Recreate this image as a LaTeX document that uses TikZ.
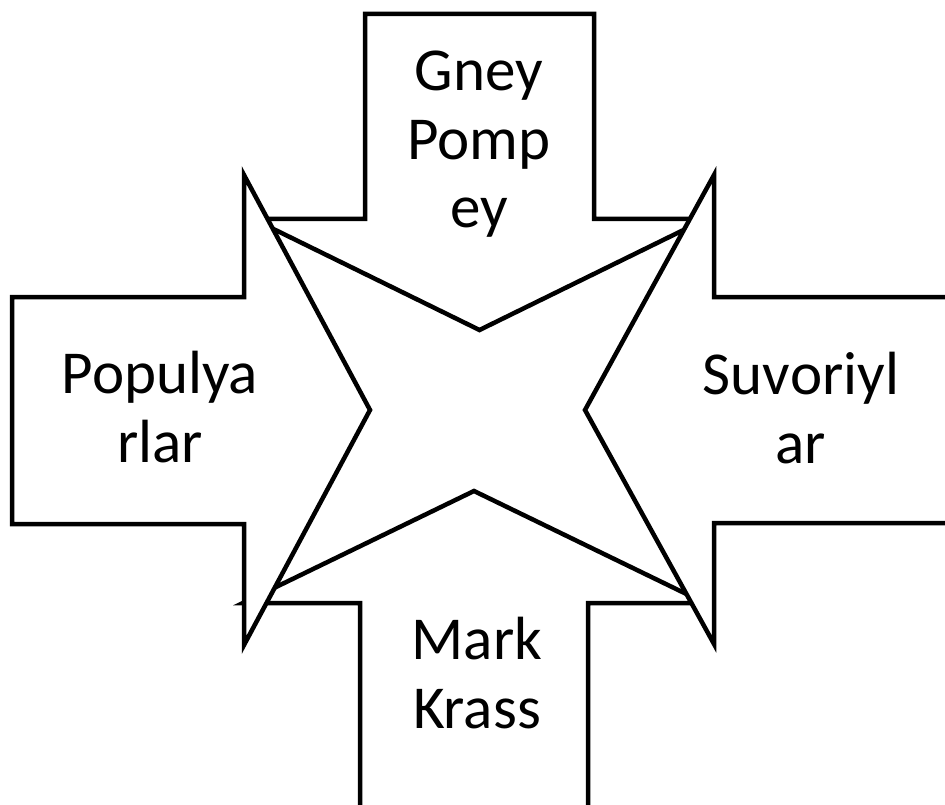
\documentclass[tikz,border=0pt]{standalone}
\usepackage{fontspec}
\setmainfont{Carlito}
\begin{document}
\begin{tikzpicture}[x=1pt,y=-1pt,
  arrowshape/.style={draw=black,fill=white,line width=4.5pt,line join=miter,miter limit=20},
  label/.style={anchor=base,align=center,inner sep=0pt,font=\fontsize{61}{68.5}\selectfont}]
\useasboundingbox (0,0) rectangle (945,805);
\clip (0,0) rectangle (945,805);
% top arrow (pointing down)
\draw[arrowshape] (365,14) -- (594,14) -- (594,219) -- (706,219) -- (479.5,330)
  -- (253,219) -- (365,219) -- cycle;
% bottom arrow (pointing up)
\draw[arrowshape] (360,820) -- (360,603) -- (243,603) -- (474,491) -- (705,603)
  -- (588,603) -- (588,820) -- cycle;
% left arrow (pointing right)
\draw[arrowshape] (12,297) -- (244,297) -- (244,175) -- (370,410) -- (244,645)
  -- (244,524) -- (12,524) -- cycle;
% right arrow (pointing left)
\draw[arrowshape] (960,297) -- (714,297) -- (714,175) -- (585,410) -- (714,644)
  -- (714,523) -- (960,523) -- cycle;
% labels (anchored at the baseline of the last line)
\node[label] (top) at (479,228) {Gney\\Pomp\\ey};
\node[label] (left) at (160,462) {Populya\\rlar};
\node[label] (right) at (801,463) {Suvoriyl\\ar};
\node[label] (bottom) at (477,728) {Mark\\Krass};
\end{tikzpicture}
\end{document}
